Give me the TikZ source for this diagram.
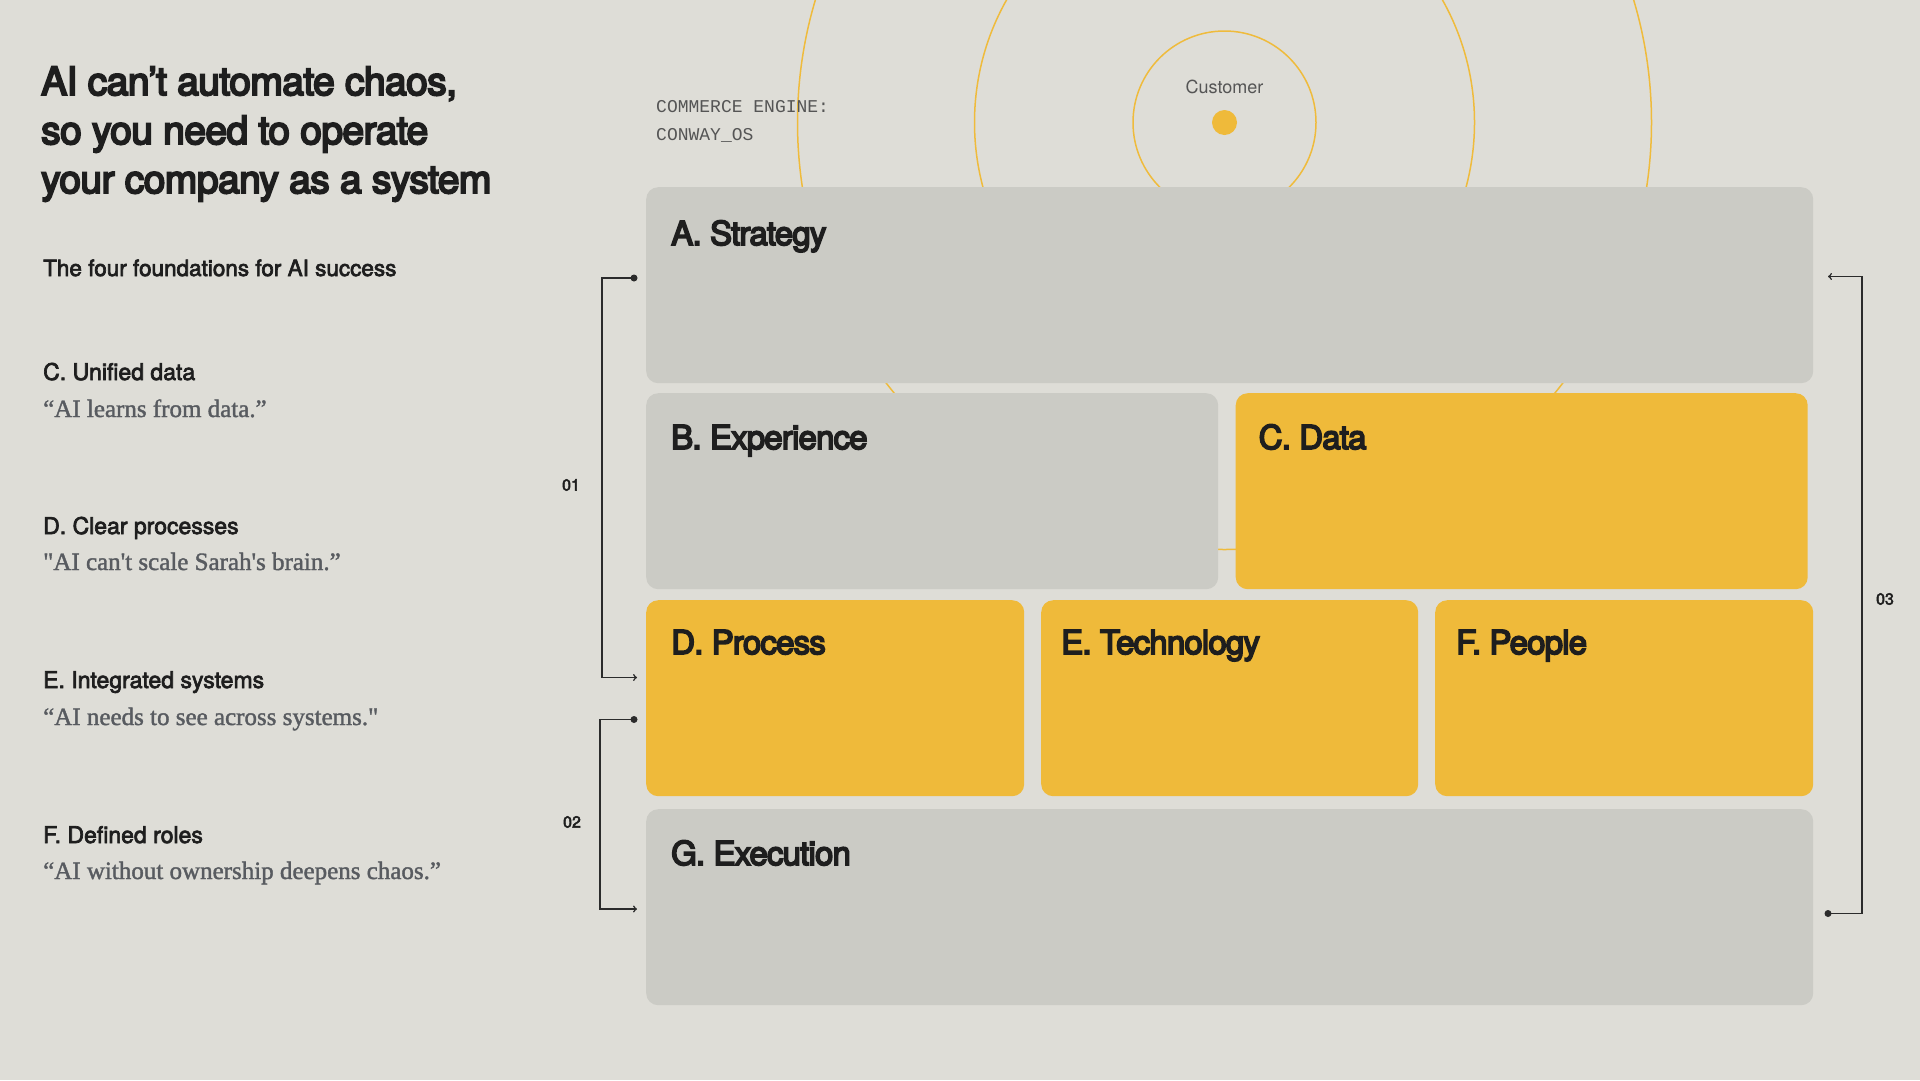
\documentclass[tikz,border=0pt]{standalone}
\usepackage{fontspec}
\setmainfont{TeX Gyre Heros}
\newfontfamily\titlefam[FakeBold=5,LetterSpace=-1.5]{TeX Gyre Heros}
\newfontfamily\boxfam[FakeBold=5,LetterSpace=-2.5]{TeX Gyre Heros}
\newfontfamily\headfam[FakeBold=3]{TeX Gyre Heros}
\newfontfamily\quotefam[FakeBold=1.5]{Liberation Serif}
\newfontfamily\enginefam{Liberation Mono}
\usetikzlibrary{calc, positioning}
\definecolor{bg}{HTML}{DEDDD7}
\definecolor{boxgray}{HTML}{CBCBC5}
\definecolor{boxyellow}{HTML}{EFBA3A}
\definecolor{ink}{HTML}{1E1E1E}
\definecolor{quotegray}{HTML}{585B60}
\definecolor{enginegray}{HTML}{555555}
\definecolor{ring}{HTML}{EFBB3C}
\definecolor{wire}{HTML}{2B2B2B}
\tikzset{
  % Set arrowhead
  >=to,
  % Text nodes
  txt/.style={anchor=base west, inner sep=0pt, text=ink},
  title/.style={txt, font=\titlefam\fontsize{39}{49}\selectfont},
  subtitle/.style={txt, font=\headfam\fontsize{22.5}{27}\selectfont},
  head/.style={txt, font=\headfam\fontsize{23}{28}\selectfont},
  quote/.style={txt, text=quotegray, font=\quotefam\fontsize{25}{30}\selectfont},
  engine/.style={txt, text=enginegray, font=\enginefam\fontsize{18}{22}\selectfont},
  % Engine blocks
  gbox/.style={fill=boxgray, rounded corners=12pt, inner sep=0pt,
    anchor=north west},
  ybox/.style={gbox, fill=boxyellow},
  blabel/.style={txt, font=\boxfam\fontsize{33}{40}\selectfont},
  % Rings round the customer
  orbit/.style={draw=ring, line width=1.5pt},
  % Feedback brackets
  loop/.style={draw=wire, line width=1.5pt},
  tag/.style={inner sep=0pt, text=ink, font=\headfam\fontsize{16}{19}\selectfont},
}
\begin{document}
\begin{tikzpicture}[x=1pt, y=-1pt]
  \fill[bg] (0,0) rectangle (1920,1080);
  \useasboundingbox (0,0) rectangle (1920,1080);

  % rings
  \draw[orbit] (1224.5,122.5) circle [radius=427];
  \draw[orbit] (1224.5,122.5) circle [radius=250];
  \draw[orbit] (1224.5,122.5) circle [radius=91.5];
  \node[circle, fill=boxyellow, minimum size=25pt, inner sep=0pt] (dot) at (1224.5,122.5) {};
  \node[inner sep=0pt, text=enginegray, font=\fontsize{18}{22}\selectfont,
    above=16pt of dot] (cust) {Customer};

  % left column
  \node[title] (t1) at (41,95) {AI can’t automate chaos,};
  \node[title] (t2) at (41,144) {so you need to operate};
  \node[title] (t3) at (41,193) {your company as a system};
  \node[subtitle] (sub) at (43,276) {The four foundations for AI success};

  \node[head] (hC) at (43,380) {C. Unified data};
  \node[quote] (qC) at (43,417) {“AI learns from data.”};
  \node[head] (hD) at (43,534) {D. Clear processes};
  \node[quote] (qD) at (43,570) {"AI can't scale Sarah's brain.”};
  \node[head] (hE) at (43,688) {E. Integrated systems};
  \node[quote] (qE) at (43,725) {“AI needs to see across systems."};
  \node[head] (hF) at (43,843) {F. Defined roles};
  \node[quote] (qF) at (43,879) {“AI without ownership deepens chaos.”};

  \node[engine] (eng1) at (656,112.7) {COMMERCE ENGINE:};
  \node[engine] (eng2) at (656,140) {CONWAY\_OS};

  % engine blocks
  \node[gbox, minimum width=1167pt, minimum height=196pt] (A) at (646,187) {};
  \node[gbox, minimum width=572pt, minimum height=196pt] (B) at (646,393) {};
  \node[ybox, minimum width=572pt, minimum height=196pt] (C) at (1235.5,393) {};
  \node[ybox, minimum width=378pt, minimum height=196pt] (D) at (646,600) {};
  \node[ybox, minimum width=377pt, minimum height=196pt] (E) at (1041,600) {};
  \node[ybox, minimum width=378pt, minimum height=196pt] (F) at (1435,600) {};
  \node[gbox, minimum width=1167pt, minimum height=196pt] (G) at (646,809) {};

  \node[blabel] (la) at ($(A.north west)+(25,58)$) {A. Strategy};
  \node[blabel] (lb) at ($(B.north west)+(25,56)$) {B. Experience};
  \node[blabel] (lc) at ($(C.north west)+(23,56)$) {C. Data};
  \node[blabel] (ld) at ($(D.north west)+(25,54)$) {D. Process};
  \node[blabel] (le) at ($(E.north west)+(20,54)$) {E. Technology};
  \node[blabel] (lf) at ($(F.north west)+(21,54)$) {F. People};
  \node[blabel] (lg) at ($(G.north west)+(25,56)$) {G. Execution};

  % brackets
  \coordinate (s1) at (634,278);
  \coordinate (e1) at (637,677.5);
  \coordinate (s2) at (634,719.5);
  \coordinate (e2) at (637,909);
  \coordinate (s3) at (1828,913.5);
  \coordinate (e3) at (1828,276.5);

  \draw[loop, ->] (s1) -- ++(-32,0) |- (e1);
  \draw[loop, ->] (s2) -- ++(-34,0) |- (e2);
  \draw[loop, ->] (s3) -- ++(34,0) |- (e3);
  \fill[wire] (s1) circle [radius=3.5];
  \fill[wire] (s2) circle [radius=3.5];
  \fill[wire] (s3) circle [radius=3.5];

  \node[tag] (n1) at (571,485) {01};
  \node[tag] (n2) at (572,822) {02};
  \node[tag] (n3) at (1885,599) {03};
\end{tikzpicture}
\end{document}
